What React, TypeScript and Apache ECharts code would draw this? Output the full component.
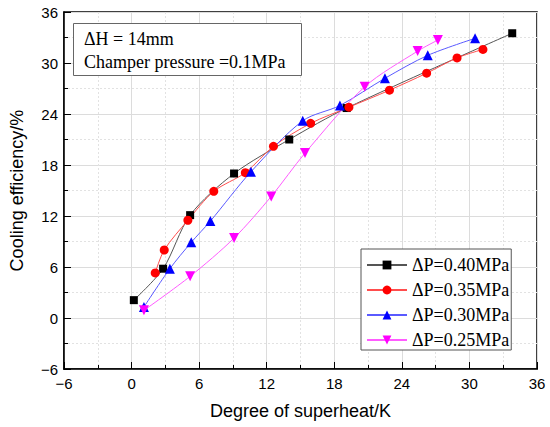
import React, { useEffect, useRef } from "react";
import * as echarts from "echarts";

const seriesNames = ["ΔP=0.40MPa", "ΔP=0.35MPa", "ΔP=0.30MPa", "ΔP=0.25MPa"];

const dp040: [number, number][] = [
  [0.2, 2.1], [2.8, 5.8], [5.2, 12.1], [9.1, 17.0], [14.0, 21.0], [19.1, 24.7], [33.8, 33.5],
];
const dp035: [number, number][] = [
  [2.1, 5.3], [2.9, 8.0], [5.0, 11.5], [7.3, 14.9], [10.1, 17.1], [12.6, 20.2],
  [15.9, 22.9], [19.3, 24.8], [22.9, 26.8], [26.2, 28.8], [28.9, 30.6], [31.2, 31.6],
];
const dp030: [number, number][] = [
  [1.1, 1.3], [3.4, 5.8], [5.3, 8.9], [7.0, 11.4], [10.6, 17.2], [15.2, 23.2],
  [18.5, 25.0], [22.5, 28.2], [26.3, 30.9], [30.5, 32.9],
];
const dp025: [number, number][] = [
  [1.1, 0.9], [5.2, 4.9], [9.1, 9.4], [12.4, 14.3], [15.4, 19.4], [20.7, 27.2],
  [25.4, 31.4], [27.2, 32.7],
];

const annotationLines = ["ΔH = 14mm", "Champer pressure =0.1MPa"];

const xTitle = "Degree of superheat/K";
const yTitle = "Cooling efficiency/%";

export default function App() {
  const ref = useRef<HTMLDivElement>(null);
  useEffect(() => {
    if (!ref.current) return;
    const chart = echarts.init(ref.current, null, { renderer: "svg" });
    const mk = (
      name: string,
      data: [number, number][],
      color: string,
      lineColor: string,
      symbol: string,
      size: number
    ) => ({
      name,
      type: "line",
      data,
      smooth: 0.3,
      symbol,
      symbolSize: size,
      lineStyle: { color: lineColor, width: 1 },
      itemStyle: { color },
      z: 3,
    });
    const fmt = (v: number) => String(v).replace("-", "\u2212");
    const axisCommon = {
      type: "value",
      min: -6,
      max: 36,
      interval: 6,
      nameLocation: "middle",
      nameTextStyle: { fontFamily: "Liberation Sans", fontSize: 18, color: "#000" },
      axisLine: { show: true, onZero: false, lineStyle: { color: "#000", width: 1.5 } },
      axisTick: { show: true, inside: true, length: 7, lineStyle: { color: "#000" } },
      minorTick: { show: true, splitNumber: 2, length: 4, lineStyle: { color: "#000" } },
      splitLine: { show: true, lineStyle: { color: "#dcdcdc", width: 1 } },
      minorSplitLine: { show: true, lineStyle: { color: "#e2e2e2", type: [2, 2], width: 1 } },
    };
    chart.setOption({
      animation: false,
      backgroundColor: "#fff",
      grid: { left: 57, right: 13, top: 12, bottom: 58, show: true, borderColor: "#000", borderWidth: 1.5 },
      xAxis: {
        ...axisCommon,
        name: xTitle,
        nameGap: 33,
        axisLabel: { fontFamily: "Liberation Sans", fontSize: 15, color: "#000", margin: 7, formatter: fmt },
      },
      yAxis: {
        ...axisCommon,
        name: yTitle,
        nameGap: 38,
        axisLabel: { fontFamily: "Liberation Sans", fontSize: 15, color: "#000", margin: 6, formatter: fmt },
      },
      legend: {
        orient: "vertical",
        left: 361,
        top: 249,
        data: seriesNames,
        itemWidth: 40,
        itemHeight: 11,
        itemGap: 7,
        padding: [7, 2, 1, 5],
        borderColor: "#555",
        borderWidth: 1,
        backgroundColor: "#fff",
        textStyle: { fontFamily: "Liberation Serif", fontSize: 18, color: "#000" },
      },
      graphic: [
        {
          type: "rect",
          left: 73,
          top: 23,
          z: 10,
          shape: { width: 228, height: 52 },
          style: { fill: "#fff", stroke: "#666", lineWidth: 1 },
        },
        {
          type: "text",
          left: 84,
          top: 30,
          z: 11,
          style: { text: annotationLines[0], font: "18px 'Liberation Serif'", fill: "#000" },
        },
        {
          type: "text",
          left: 84,
          top: 53,
          z: 11,
          style: { text: annotationLines[1], font: "18px 'Liberation Serif'", fill: "#000" },
        },
      ],
      series: [
        mk(seriesNames[0], dp040, "#000000", "#555555", "rect", 8),
        mk(seriesNames[1], dp035, "#ff0000", "#ff4d4d", "circle", 9),
        mk(seriesNames[2], dp030, "#0000ff", "#5a5aff", "triangle", 10),
        mk(seriesNames[3], dp025, "#ff00ff", "#ff5cff", "path://M0,0 L10,0 L5,9 Z", 10),
      ],
    });
    return () => chart.dispose();
  }, []);
  return <div ref={ref} style={{ position: "fixed", left: 0, top: 0, width: 550, height: 427 }} />;
}
